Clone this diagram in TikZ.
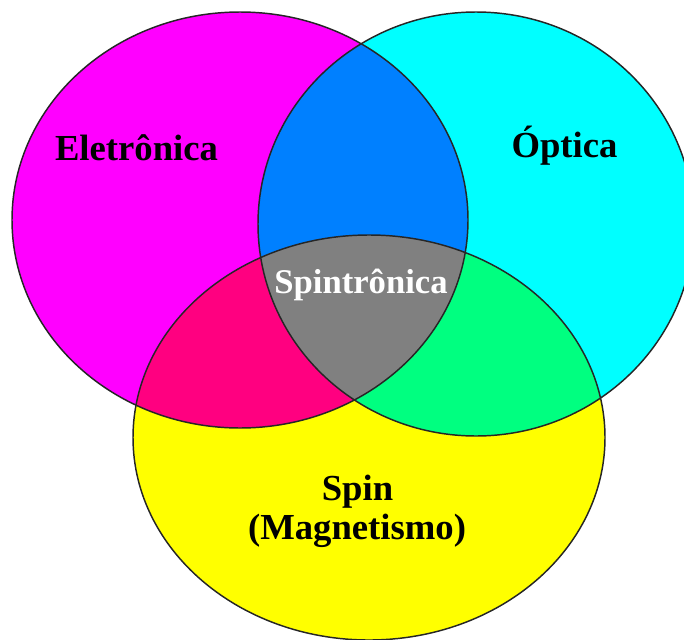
\documentclass[tikz,border=0pt]{standalone}
\usepackage{fontspec}
\setmainfont{Liberation Serif}
\usetikzlibrary{positioning}
\definecolor{vMagenta}{RGB}{255,0,255}
\definecolor{vCyan}{RGB}{0,255,255}
\definecolor{vYellow}{RGB}{255,255,0}
\definecolor{vBlue}{RGB}{0,128,255}
\definecolor{vPink}{RGB}{255,0,128}
\definecolor{vGreen}{RGB}{0,255,128}
\definecolor{vGray}{RGB}{128,128,128}
\tikzset{
  rim/.style={draw=black!85, line width=1.1pt},
  tag/.style={font=\bfseries\fontsize{27.5}{30}\selectfont, inner sep=0pt, anchor=base},
  tagcore/.style={font=\bfseries\fontsize{26}{30}\selectfont, inner sep=0pt, anchor=base, text=white},
}
\newcommand{\eleShape}{(240,220) ellipse [x radius=228, y radius=208]}
\newcommand{\optShape}{(476,224) ellipse [x radius=218, y radius=212]}
\newcommand{\spinShape}{(369,437.5) ellipse [x radius=236, y radius=202.5]}

\begin{document}
\begin{tikzpicture}[x=0.75pt, y=-0.75pt]
    \clip (0,0) rectangle (684,639);
    % the three fields
    \fill[vMagenta] \eleShape;
    \fill[vCyan]    \optShape;
    \fill[vYellow]  \spinShape;
    % pairwise overlaps
    \begin{scope}
      \clip \eleShape;
      \fill[vBlue] \optShape;
      \fill[vPink] \spinShape;
    \end{scope}
    \begin{scope}
      \clip \optShape;
      \fill[vGreen] \spinShape;
    \end{scope}
    % common core
    \begin{scope}
      \clip \eleShape;
      \clip \optShape;
      \fill[vGray] \spinShape;
    \end{scope}
    \draw[rim] \eleShape;
    \draw[rim] \optShape;
    \draw[rim] \spinShape;
    % labels
    \node[tag]     (ele)  at (136.5,160) {Eletrônica};
    \node[tag]     (opt)  at (564.5,157) {Óptica};
    \node[tagcore] (core) at (361,293)   {Spintrônica};
    \node[tag]     (spin) at (357.5,500) {Spin};
    \node[tag]     (mag)  at (357,539)   {(Magnetismo)};
  \end{tikzpicture}
\end{document}
